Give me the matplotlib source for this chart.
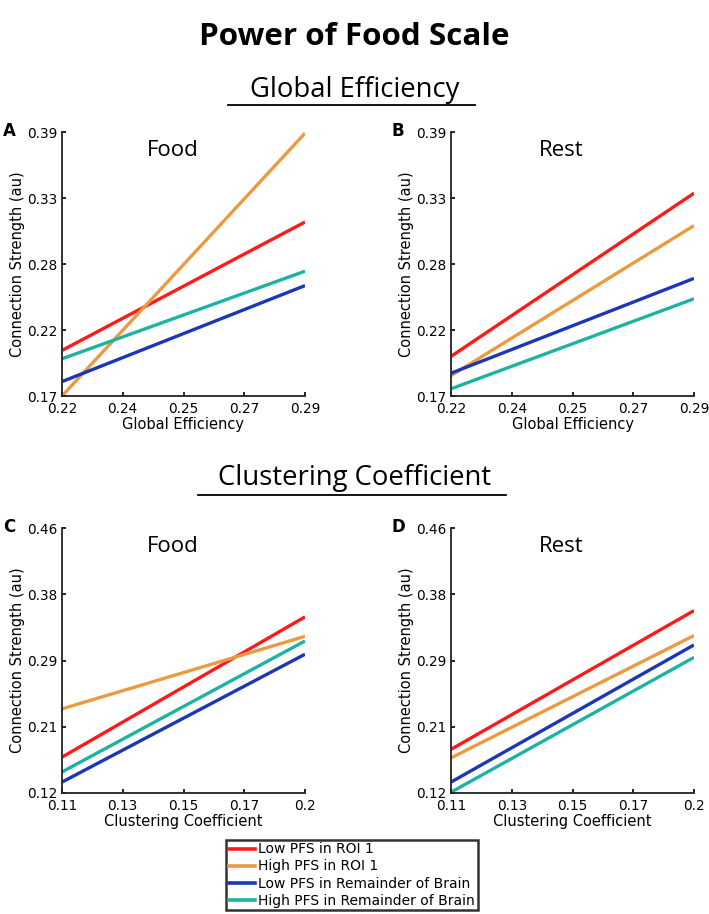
import matplotlib
matplotlib.use("Agg")
import matplotlib.pyplot as plt
from matplotlib.lines import Line2D
import numpy as np

# ---- data ----
series_names = ["Low PFS in ROI 1", "High PFS in ROI 1",
                "Low PFS in Remainder of Brain", "High PFS in Remainder of Brain"]
series_colors = ["#ff1a1a", "#eb9a3f", "#1c36b8", "#1db3a1"]

ge_x = [0.22, 0.29]
ge_xticklabels = ["0.22", "0.24", "0.25", "0.27", "0.29"]
ge_yticklabels = ["0.17", "0.22", "0.28", "0.33", "0.39"]
ge_ylim = [0.17, 0.39]
# panel A (Food) start/end values for each series
ge_food = [[0.208, 0.315], [0.170, 0.389], [0.182, 0.262], [0.201, 0.274]]
# panel B (Rest)
ge_rest = [[0.203, 0.339], [0.187, 0.312], [0.189, 0.268], [0.176, 0.251]]

cc_x = [0.11, 0.20]
cc_xticklabels = ["0.11", "0.13", "0.15", "0.17", "0.2"]
cc_yticklabels = ["0.12", "0.21", "0.29", "0.38", "0.46"]
cc_ylim = [0.12, 0.46]
# panel C (Food)
cc_food = [[0.166, 0.346], [0.228, 0.321], [0.134, 0.298], [0.147, 0.315]]
# panel D (Rest)
cc_rest = [[0.176, 0.354], [0.165, 0.322], [0.134, 0.310], [0.121, 0.294]]

W, H = 709, 914
fig = plt.figure(figsize=(W / 100, H / 100), dpi=100)

title_font = ["Open Sans", "DejaVu Sans"]


def fx(px):
    return px / W


def fy(py):
    return 1 - py / H


def make_panel(rect, xs, vals, xticklabels, yticklabels, ylim, xlabel, letter, subtitle):
    ax = fig.add_axes(rect)
    for v, c in zip(vals, series_colors):
        ax.plot(xs, v, color=c, lw=2.4, solid_capstyle="butt")
    ax.set_xlim(xs[0], xs[1])
    ax.set_ylim(ylim[0], ylim[1])
    ax.set_xticks(np.linspace(xs[0], xs[1], len(xticklabels)))
    ax.set_xticklabels(xticklabels)
    ax.set_yticks(np.linspace(ylim[0], ylim[1], len(yticklabels)))
    ax.set_yticklabels(yticklabels)
    for s in ["top", "right"]:
        ax.spines[s].set_visible(False)
    for s in ["left", "bottom"]:
        ax.spines[s].set_linewidth(1.3)
        ax.spines[s].set_color("#222222")
    ax.tick_params(axis="x", direction="in", length=3, width=1.2, labelsize=9.8, pad=4)
    ax.tick_params(axis="y", direction="in", length=3, width=1.2, labelsize=9.8, pad=3)
    ax.set_xlabel(xlabel, fontsize=10.5, labelpad=1)
    ax.set_ylabel("Connection Strength (au)", fontsize=10.5, labelpad=2)
    ax.text(0.455, 0.97, subtitle, transform=ax.transAxes, ha="center", va="top",
            fontsize=16, family=title_font)
    ax.text(-53 / 243, 1.005, letter, transform=ax.transAxes, ha="center", va="center",
            fontsize=12, fontweight="bold")
    return ax


axw = (305 - 62) / W
axh = (396 - 132) / H
make_panel([fx(62), fy(396), axw, axh], ge_x, ge_food, ge_xticklabels, ge_yticklabels,
           ge_ylim, "Global Efficiency", "A", "Food")
make_panel([fx(451), fy(396), axw, axh], ge_x, ge_rest, ge_xticklabels, ge_yticklabels,
           ge_ylim, "Global Efficiency", "B", "Rest")
make_panel([fx(62), fy(793), axw, axh + 1 / H], cc_x, cc_food, cc_xticklabels, cc_yticklabels,
           cc_ylim, "Clustering Coefficient", "C", "Food")
make_panel([fx(451), fy(793), axw, axh + 1 / H], cc_x, cc_rest, cc_xticklabels, cc_yticklabels,
           cc_ylim, "Clustering Coefficient", "D", "Rest")

# main title and section headings
fig.text(0.5, fy(37), "Power of Food Scale", ha="center", va="center",
         fontsize=22.6, fontweight="bold", family=title_font)
fig.text(0.5, fy(90), "Global Efficiency", ha="center", va="center",
         fontsize=19.8, family=title_font)
fig.add_artist(Line2D([fx(228), fx(475)], [fy(105), fy(105)], color="black", lw=1.3))
fig.text(0.5, fy(478), "Clustering Coefficient", ha="center", va="center",
         fontsize=19.8, family=title_font)
fig.add_artist(Line2D([fx(198), fx(506)], [fy(495), fy(495)], color="black", lw=1.3))

# legend
handles = [Line2D([0], [0], color=c, lw=2.6) for c in series_colors]
leg = fig.legend(handles, series_names, loc="center",
                 bbox_to_anchor=(fx(352), fy(875)), fontsize=10.0, frameon=True,
                 fancybox=False, handlelength=1.9, handletextpad=0.2,
                 borderpad=0.2, labelspacing=0.22, borderaxespad=0)
leg.get_frame().set_edgecolor("black")
leg.get_frame().set_linewidth(1.8)

fig.savefig("out.png", dpi=100)
